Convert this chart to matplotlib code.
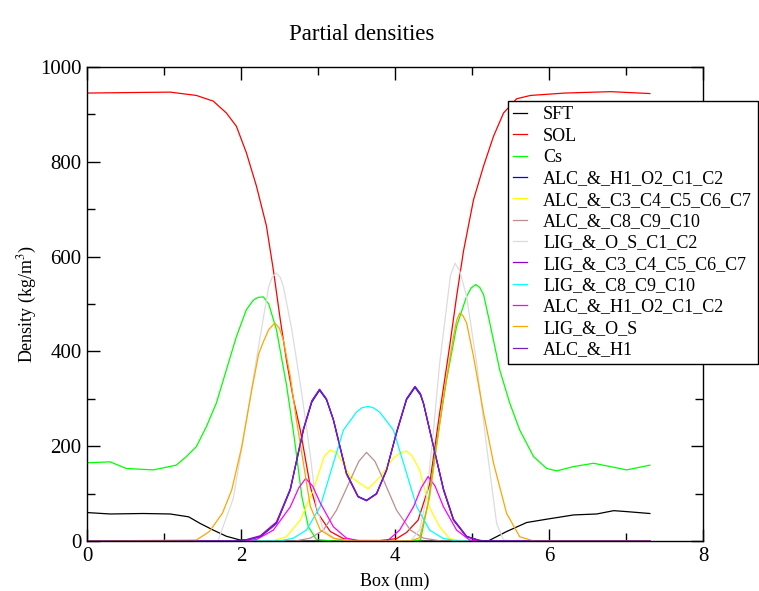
import matplotlib
matplotlib.use("Agg")
import matplotlib.pyplot as plt

# Partial density profiles (x in nm, y in kg/m^3)
sft_x = [0, 0.3, 0.73, 1.08, 1.32, 1.47, 1.64, 1.81, 1.99, 2.2, 3.0, 4.0, 5.0,
         5.21, 5.45, 5.71, 5.97, 6.32, 6.62, 6.84, 7.01, 7.31]
sft_y = [60, 57, 58, 57, 51, 37, 23, 10, 2, 0, 0, 0, 0,
         0, 20, 39, 46, 55, 57, 64, 62, 58]

sol_x = [0, 0.5, 1.08, 1.42, 1.64, 1.81, 1.94, 2.07, 2.2, 2.33, 2.42, 2.51,
         2.59, 2.68, 2.77, 2.9, 3.0, 3.16, 3.33, 3.5, 3.8, 4.02, 4.15, 4.3,
         4.45, 4.58, 4.71, 4.8, 4.89, 5.02, 5.15, 5.28, 5.41, 5.58, 5.76,
         6.2, 6.8, 7.31]
sol_y = [945, 946, 947, 940, 928, 903, 875, 819, 749, 665, 572, 467,
         382, 300, 234, 115, 58, 20, 5, 1, 1, 5, 18, 44,
         120, 270, 411, 516, 612, 720, 791, 854, 903, 933, 940,
         945, 948, 944]

cs_x = [0, 0.3, 0.51, 0.86, 1.16, 1.29, 1.42, 1.55, 1.68, 1.81, 1.94, 2.07,
        2.16, 2.22, 2.29, 2.36, 2.46, 2.59, 2.69, 2.79, 2.875, 2.98, 3.2,
        4.2, 4.33, 4.43, 4.54, 4.67, 4.8, 4.93, 4.99, 5.05, 5.1, 5.15, 5.23,
        5.36, 5.49, 5.62, 5.8, 5.97, 6.1, 6.32, 6.58, 7.01, 7.31]
cs_y = [165, 167, 153, 150, 160, 178, 199, 241, 291, 361, 431, 488,
        508, 514, 515, 500, 446, 330, 220, 94, 30, 3, 0,
        0, 2, 80, 206, 340, 453, 516, 534, 541, 535, 520, 461,
        361, 291, 234, 178, 153, 148, 157, 164, 150, 160]

# the three dark curves with the double hump (320 / 325)
alc_h1o2_x = [0, 1.9, 2.07, 2.25, 2.46, 2.64, 2.81, 2.92, 3.02, 3.11, 3.2,
              3.37, 3.52, 3.63, 3.76, 3.89, 4.02, 4.15, 4.26, 4.33, 4.37,
              4.5, 4.63, 4.76, 4.93, 5.1, 5.3, 7.31]
alc_h1o2_y = [0, 0, 2, 9, 37, 108, 234, 293, 318, 298, 256,
              143, 94, 86, 100, 150, 228, 298, 324, 308, 290,
              199, 108, 44, 9, 1, 0, 0]

lig_c3_x = [0, 1.9, 2.07, 2.25, 2.46, 2.64, 2.81, 2.92, 3.02, 3.11, 3.2,
            3.37, 3.52, 3.63, 3.76, 3.89, 4.02, 4.15, 4.26, 4.33, 4.37,
            4.5, 4.63, 4.76, 4.93, 5.1, 5.3, 7.31]
lig_c3_y = [0, 0, 3, 11, 40, 110, 236, 296, 320, 299, 255,
            141, 93, 85, 99, 149, 230, 300, 326, 311, 291,
            200, 110, 46, 10, 1, 0, 0]

alc_h1_x = [0, 1.9, 2.07, 2.25, 2.46, 2.64, 2.81, 2.92, 3.02, 3.11, 3.2,
            3.37, 3.52, 3.63, 3.76, 3.89, 4.02, 4.15, 4.26, 4.33, 4.37,
            4.5, 4.63, 4.76, 4.93, 5.1, 5.3, 7.31]
alc_h1_y = [0, 0, 2, 9, 37, 108, 234, 295, 320, 300, 256,
            143, 94, 85, 100, 150, 228, 300, 326, 310, 290,
            199, 108, 44, 9, 1, 0, 0]

alc_c3_x = [0, 2.4, 2.59, 2.77, 2.94, 3.08, 3.16, 3.24, 3.33, 3.42, 3.65,
            3.81, 3.98, 4.07, 4.15, 4.22, 4.32, 4.45, 4.58, 4.71, 4.9, 7.31]
alc_c3_y = [0, 0, 9, 44, 108, 178, 192, 186, 164, 136, 110,
            136, 175, 186, 190, 180, 150, 70, 30, 5, 0, 0]

alc_c8_x = [0, 2.7, 2.9, 3.07, 3.24, 3.42, 3.53, 3.63, 3.74, 3.85, 4.02,
            4.2, 4.37, 4.6, 7.31]
alc_c8_y = [0, 0, 6, 23, 65, 129, 168, 187, 168, 129, 65,
            23, 6, 0, 0]

lig_os_c1_x = [0, 1.7, 1.9, 2.07, 2.25, 2.36, 2.41, 2.46, 2.51, 2.55, 2.66,
               2.79, 2.85, 2.9, 2.98, 3.07, 3.24, 4.2, 4.32, 4.41, 4.5,
               4.58, 4.72, 4.78, 4.84, 4.93, 5.06, 5.19, 5.32, 5.41, 5.6,
               7.31]
lig_os_c1_y = [0, 0, 90, 255, 432, 537, 558, 565, 556, 537, 446,
               310, 240, 180, 73, 23, 3, 0, 23, 93, 234,
               375, 560, 586, 570, 516, 375, 199, 37, 2, 0,
               0]

lig_c8_x = [0, 2.5, 2.68, 2.85, 3.03, 3.16, 3.33, 3.5, 3.57, 3.65, 3.72,
            3.8, 3.98, 4.15, 4.28, 4.45, 4.62, 4.8, 7.31]
lig_c8_y = [0, 0, 6, 23, 73, 143, 234, 272, 281, 284, 281,
            272, 234, 143, 73, 23, 6, 0, 0]

alc_h1o2b_x = [0, 2.0, 2.2, 2.42, 2.64, 2.75, 2.84, 2.93, 3.03, 3.2, 3.37,
               3.55, 3.9, 4.06, 4.24, 4.34, 4.43, 4.52, 4.63, 4.8, 4.97,
               5.1, 7.31]
alc_h1o2b_y = [0, 0, 3, 23, 72, 112, 132, 116, 80, 30, 6,
               0, 0, 23, 72, 112, 136, 116, 72, 23, 2,
               0, 0]

lig_os_x = [0, 1.42, 1.59, 1.76, 1.88, 2.01, 2.14, 2.23, 2.29, 2.36, 2.44,
            2.5, 2.55, 2.64, 2.72, 2.9, 3.03, 3.2, 3.4, 4.2, 4.32, 4.45,
            4.63, 4.76, 4.8, 4.84, 4.88, 4.93, 5.02, 5.15, 5.28, 5.45, 5.62,
            5.8, 7.31]
lig_os_y = [0, 2, 20, 59, 108, 199, 319, 395, 420, 446, 460,
            448, 424, 347, 255, 73, 23, 6, 0, 0, 7, 93,
            305, 432, 465, 481, 476, 460, 389, 270, 164, 58, 9,
            0, 0]

labels = ["SFT", "SOL", "Cs", "ALC_&_H1_O2_C1_C2", "ALC_&_C3_C4_C5_C6_C7",
          "ALC_&_C8_C9_C10", "LIG_&_O_S_C1_C2", "LIG_&_C3_C4_C5_C6_C7",
          "LIG_&_C8_C9_C10", "ALC_&_H1_O2_C1_C2", "LIG_&_O_S", "ALC_&_H1"]
xs = [sft_x, sol_x, cs_x, alc_h1o2_x, alc_c3_x, alc_c8_x, lig_os_c1_x,
      lig_c3_x, lig_c8_x, alc_h1o2b_x, lig_os_x, alc_h1_x]
ys = [sft_y, sol_y, cs_y, alc_h1o2_y, alc_c3_y, alc_c8_y, lig_os_c1_y,
      lig_c3_y, lig_c8_y, alc_h1o2b_y, lig_os_y, alc_h1_y]
# grace default palette
colors = ["#000000", "#ff0000", "#00ff00", "#0000ff", "#ffff00", "#bc8f8f",
          "#dcdcdc", "#9400d3", "#00ffff", "#ff00ff", "#ffa500", "#7221bc"]

plt.rcParams["font.family"] = "Liberation Serif"
plt.rcParams["mathtext.fontset"] = "stix"

fig = plt.figure(figsize=(7.59, 5.91), dpi=100)
ax = fig.add_axes([87 / 759, 1 - 541 / 591, 616 / 759, 474 / 591])

for i in range(len(labels)):
    ax.plot(xs[i], ys[i], color=colors[i], lw=0.9, label=labels[i])

ax.set_xlim(0, 8)
ax.set_ylim(0, 1000)
ax.set_xticks([0, 2, 4, 6, 8])
ax.set_xticks([1, 3, 5, 7], minor=True)
ax.set_yticks(range(0, 1001, 200))
ax.set_yticks(range(100, 1000, 200), minor=True)
ax.tick_params(which="both", direction="in", top=True, right=True,
               width=1, labelsize=15)
ax.tick_params(which="major", length=9)
ax.tick_params(which="minor", length=5.5)
ax.tick_params(axis="x", pad=4)
ax.tick_params(axis="y", pad=4)
for s in ax.spines.values():
    s.set_linewidth(1)

ax.set_xlabel("Box (nm)", fontsize=13, labelpad=5)
ax.set_ylabel("Density (kg/m$^3$)", fontsize=13, labelpad=1)
fig.text(362 / 759, 1 - 34 / 591, "Partial densities", fontsize=16.5,
         ha="center", va="center")

leg = ax.legend(loc="upper left", bbox_to_anchor=(508 / 759, 1 - 101 / 591),
                bbox_transform=fig.transFigure, fontsize=13, frameon=True,
                fancybox=False, handlelength=0.75, handletextpad=0.9,
                labelspacing=0.24, borderpad=0.3, borderaxespad=0)
leg.get_frame().set_edgecolor("black")
leg.get_frame().set_linewidth(1)
leg.get_frame().set_alpha(1)

fig.savefig("out.png", dpi=100)
